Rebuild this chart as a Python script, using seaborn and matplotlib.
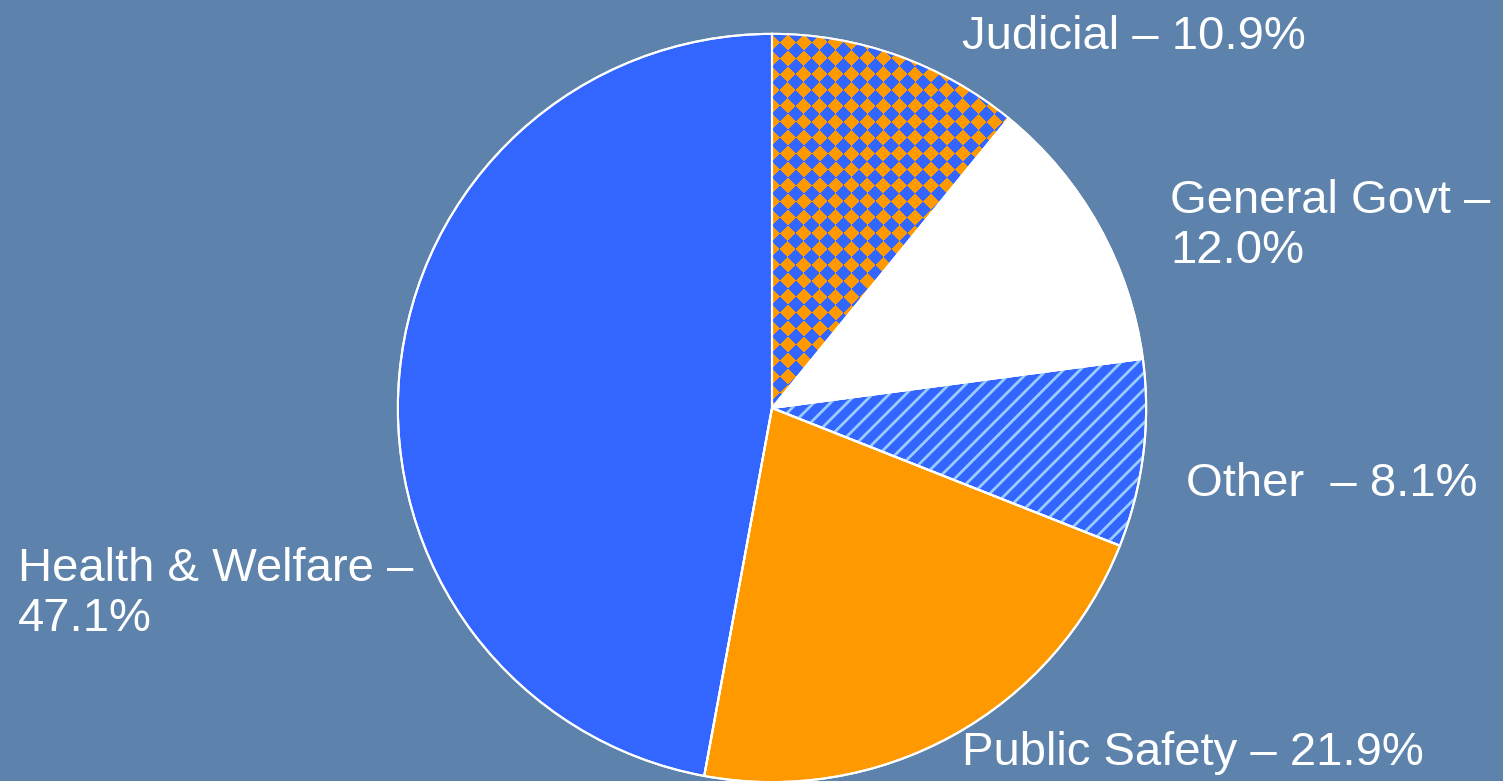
import matplotlib
matplotlib.use('Agg')
import matplotlib.pyplot as plt
import matplotlib.transforms as mtransforms
from matplotlib.colors import ListedColormap
import numpy as np
import seaborn as sns

# ── Data ─────────────────────────────────────────────────────────────────────
categories = ['Judicial', 'General Govt', 'Other', 'Public Safety', 'Health & Welfare']
shares = [10.9, 12.0, 8.1, 21.9, 47.1]
label_texts = ['Judicial – 10.9%', 'General Govt –\n12.0%', 'Other  – 8.1%',
               'Public Safety – 21.9%', 'Health & Welfare –\n47.1%']

BLUE, ORANGE, WHITE, LIGHT = '#3366ff', '#ff9900', '#ffffff', '#99ccff'
BG = '#5d82ab'

sns.set_theme(style='white')
plt.rcParams['font.family'] = ['Liberation Sans', 'DejaVu Sans']

fig = plt.figure(figsize=(15.03, 7.81), dpi=100, facecolor=BG)

# pie axes: centre (772, 408) px, radius ~376 px
W, H = 1503, 781
cx, cy, r = 772, 408, 376
ax = fig.add_axes([(cx - r) / W, (H - cy - r) / H, 2 * r / W, 2 * r / H])
ax.set_facecolor('none')
ax.set_aspect('equal')

fills = [ORANGE, WHITE, BLUE, ORANGE, BLUE]
wedges, _ = ax.pie(shares, colors=fills, startangle=90, counterclock=False,
                   radius=1, wedgeprops=dict(edgecolor='white', linewidth=1.5))
ax.set_xlim(-1.005, 1.005)
ax.set_ylim(-1.005, 1.005)

# ── Judicial: diamond checkerboard, clipped to its wedge ─────────────────────
cell = 11.3 / r
n = int(3.0 / cell)
checker = np.indices((n, n)).sum(axis=0) % 2
rot = mtransforms.Affine2D().rotate_deg(45) + ax.transData
img = ax.imshow(checker, cmap=ListedColormap([ORANGE, BLUE]), interpolation='nearest',
                extent=(-n * cell / 2, n * cell / 2, -n * cell / 2, n * cell / 2),
                transform=rot, zorder=1.5)
img.set_clip_path(wedges[0])

# ── Other: light blue diagonal stripes ───────────────────────────────────────
over, _ = ax.pie(shares, colors=['none'] * 5, startangle=90, counterclock=False,
                 radius=1, wedgeprops=dict(linewidth=0))
for i, w in enumerate(over):
    if i != 2:
        w.set_visible(False)
        continue
    w.set_hatch('//')
    w.set_edgecolor(LIGHT)
    if hasattr(w, 'set_hatch_linewidth'):
        w.set_hatch_linewidth(2.0)
    w.set_linewidth(0)
    w.set_zorder(1.6)

# white outlines on top
edges, _ = ax.pie(shares, colors=['none'] * 5, startangle=90, counterclock=False,
                  radius=1, wedgeprops=dict(edgecolor='white', linewidth=1.5, fill=False))
for w in edges:
    w.set_zorder(2)

ax.set_xlim(-1.005, 1.005)
ax.set_ylim(-1.005, 1.005)
ax.axis('off')

# ── Labels ───────────────────────────────────────────────────────────────────
label_pos = [(962, 37), (1170, 226), (1186, 484), (962, 753), (18, 594)]
for txt, (px, py) in zip(label_texts, label_pos):
    fig.text(px / W, 1 - py / H, txt, color='white', fontsize=34,
             ha='left', va='center', linespacing=1.2)

plt.savefig('out.png', dpi=100, facecolor=BG)
